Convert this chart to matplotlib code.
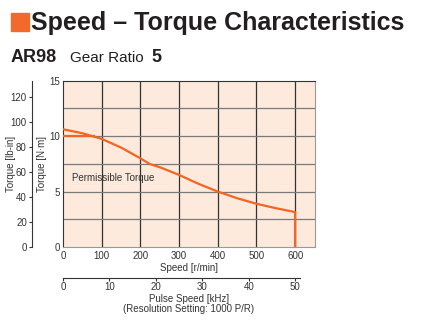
import matplotlib.pyplot as plt
from matplotlib.patches import Rectangle

plt.rcParams['font.family'] = ['Liberation Sans Narrow', 'Liberation Sans', 'DejaVu Sans']

# torque curve
speed = [0, 50, 100, 150, 200, 225, 250, 300, 350, 400, 450, 500, 550, 600, 600]
torque = [10.62, 10.26, 9.75, 8.97, 8.0, 7.47, 7.2, 6.5, 5.7, 5.0, 4.4, 3.9, 3.5, 3.15, 0]
flat_speed = [0, 80]
flat_torque = [10, 10]

speed_ticks = [0, 100, 200, 300, 400, 500, 600]
torque_ticks = [0, 5, 10, 15]
lbin_ticks = [0, 20, 40, 60, 80, 100, 120]
pulse_ticks = [0, 10, 20, 30, 40, 50]

orange = '#f26522'
txt = '#333333'
W, H = 425, 325
fs = 7

fig = plt.figure(figsize=(W / 100, H / 100), dpi=100)

# title block
fig.patches.append(Rectangle((11 / W, 1 - 31 / H), 18 / W, 18 / H, color='#f26a2b',
                             transform=fig.transFigure, figure=fig))
fig.text(31 / W, 1 - 23 / H, 'Speed – Torque Characteristics', fontsize=18,
         fontweight='bold', family=['Liberation Sans', 'DejaVu Sans'],
         va='center', ha='left', color='#231f20')
fig.text(11 / W, 1 - 58 / H, 'AR98', fontsize=13, fontweight='bold',
         family=['Liberation Sans', 'DejaVu Sans'], va='center', color='#231f20')
fig.text(70 / W, 1 - 58 / H, 'Gear Ratio', fontsize=11, va='center', color='#231f20')
fig.text(151 / W, 1 - 58 / H, '5', fontsize=13, fontweight='bold',
         family=['Liberation Sans', 'DejaVu Sans'], va='center', color='#231f20')

left, right, top, bottom = 63, 314.5, 80.7, 247
ax = fig.add_axes([left / W, 1 - bottom / H, (right - left) / W, (bottom - top) / H])
ax.set_facecolor('#fdeadd')
ax.set_xlim(0, 650)
ax.set_ylim(0, 15)

for x in speed_ticks[1:]:
    ax.axvline(x, color='#333333', lw=0.9, zorder=1)
for y in [2.5, 5, 7.5, 10, 12.5]:
    ax.axhline(y, color='#7a7a7a', lw=0.9, zorder=1)

ax.plot(speed, torque, color=orange, lw=1.6, zorder=3)
ax.plot(flat_speed, flat_torque, color=orange, lw=1.6, zorder=3)
ax.text(22, 6.2, 'Permissible Torque', fontsize=fs, va='center', color=txt)

ax.set_xticks(speed_ticks)
ax.set_yticks(torque_ticks)
ax.tick_params(length=0, labelsize=fs, colors=txt, pad=3)
ax.tick_params(axis='y', pad=2)
for s in ['left', 'top']:
    ax.spines[s].set_color('#333333')
for s in ['right', 'bottom']:
    ax.spines[s].set_color('#999999')
ax.set_xlabel('Speed [r/min]', fontsize=fs, color=txt, labelpad=1)

mid = 1 - (top + bottom) / 2 / H
fig.text(42 / W, mid, 'Torque [N·m]', fontsize=fs, color=txt, rotation=90,
         ha='center', va='center')
fig.text(11 / W, mid, 'Torque [lb-in]', fontsize=fs, color=txt, rotation=90,
         ha='center', va='center')

# lb-in axis
scale = 8.851
ax2 = fig.add_axes([31.7 / W, 1 - bottom / H, 0.0001, (bottom - top) / H])
ax2.set_ylim(0, 15 * scale)
ax2.set_xticks([])
ax2.set_yticks(lbin_ticks)
for s in ['right', 'top', 'bottom']:
    ax2.spines[s].set_visible(False)
ax2.spines['left'].set_color('#333333')
ax2.tick_params(axis='y', length=2.5, direction='out', labelsize=fs, colors=txt, pad=1)

# pulse speed axis
ax3 = fig.add_axes([left / W, 1 - 278 / H, (right - left) / W, 0.0001])
ax3.set_xlim(0, 650 * 50 / 600)
ax3.set_yticks([])
ax3.set_xticks(pulse_ticks)
for s in ['left', 'right', 'bottom']:
    ax3.spines[s].set_visible(False)
ax3.spines['top'].set_color('#333333')
ax3.spines['top'].set_bounds(0, 51)
ax3.xaxis.set_ticks_position('top')
ax3.xaxis.set_label_position('bottom')
ax3.tick_params(axis='x', length=2.5, direction='in', labelsize=fs, colors=txt,
                labeltop=False, labelbottom=True, pad=3)
ax3.set_xlabel('Pulse Speed [kHz]\n(Resolution Setting: 1000 P/R)', fontsize=fs,
               color=txt, labelpad=1, linespacing=1.0)

fig.savefig('out.png', dpi=100, facecolor='white')
